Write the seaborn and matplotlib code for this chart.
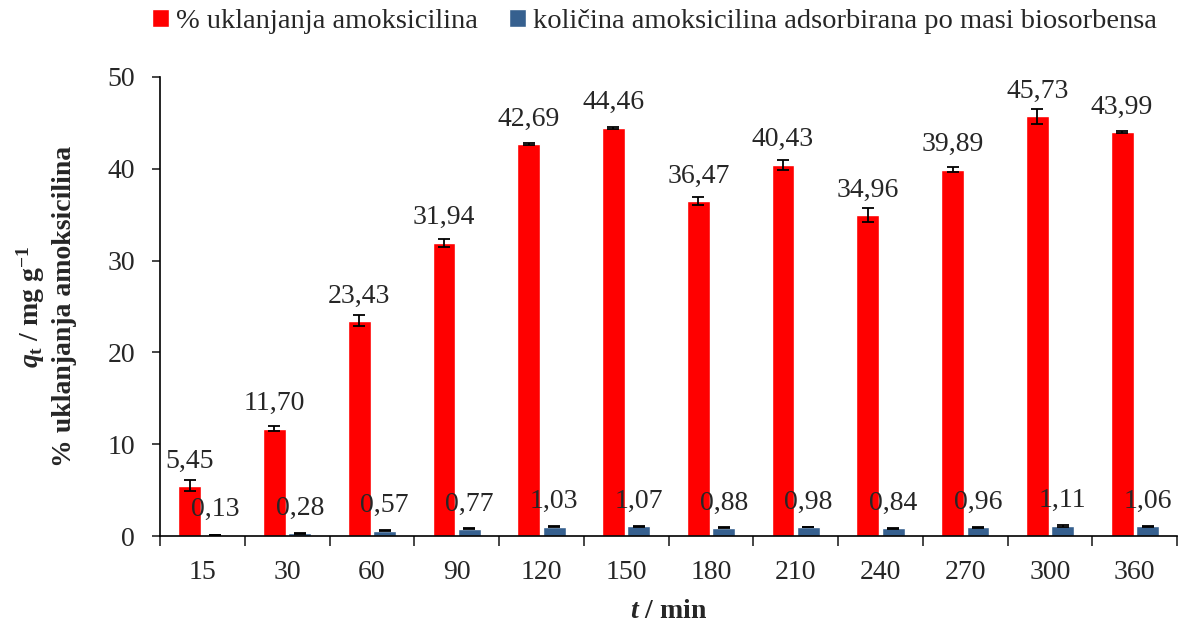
import matplotlib
matplotlib.use("Agg")
import matplotlib.pyplot as plt
import numpy as np
import pandas as pd
import seaborn as sns

# data
times = ["15", "30", "60", "90", "120", "150", "180", "210", "240", "270", "300", "360"]
removal = [5.45, 11.70, 23.43, 31.94, 42.69, 44.46, 36.47, 40.43, 34.96, 39.89, 45.73, 43.99]
removal_err = [0.60, 0.25, 0.60, 0.45, 0.10, 0.10, 0.45, 0.55, 0.78, 0.27, 0.80, 0.10]
qt = [0.13, 0.28, 0.57, 0.77, 1.03, 1.07, 0.88, 0.98, 0.84, 0.96, 1.11, 1.06]
qt_err = [0.03, 0.04, 0.05, 0.06, 0.05, 0.05, 0.05, 0.05, 0.06, 0.05, 0.08, 0.05]
series = ["% uklanjanja amoksicilina", "količina amoksicilina adsorbirana po masi biosorbensa"]
colors = ["#FF0000", "#36608F"]

df = pd.DataFrame({
    "t": times * 2,
    "value": removal + qt,
    "serija": [series[0]] * len(times) + [series[1]] * len(times),
})

sns.set_style("ticks")
plt.rcParams["font.family"] = ["Liberation Serif", "DejaVu Serif"]
plt.rcParams["mathtext.fontset"] = "custom"
plt.rcParams["mathtext.rm"] = "Liberation Serif:bold"
plt.rcParams["mathtext.it"] = "Liberation Serif:bold:italic"
plt.rcParams["mathtext.bf"] = "Liberation Serif:bold"

fs = 20
fig = plt.figure(figsize=(11.8, 6.25), dpi=100)
ax = fig.add_axes([0.1356, 0.1424, 0.862, 0.7344])

sns.barplot(data=df, x="t", y="value", hue="serija", order=times, hue_order=series,
            palette=colors, width=0.6, gap=0.1, saturation=1, errorbar=None, ax=ax)

for cont, errs, vals in zip(ax.containers, [removal_err, qt_err], [removal, qt]):
    xs = [p.get_x() + p.get_width() / 2 for p in cont.patches]
    ax.errorbar(xs, vals, yerr=errs, fmt="none", ecolor="black", elinewidth=1.3,
                capsize=4.5, capthick=1.3)
    ax.bar_label(cont, labels=[f"{v:.2f}".replace(".", ",") for v in vals],
                 padding=9, fontsize=fs)

ax.set_ylim(0, 50)
ax.set_yticks(np.arange(0, 51, 10))
ax.set_xlim(-0.5, len(times) - 0.5)
ax.set_xticks(np.arange(-0.5, len(times), 1), minor=True)
ax.tick_params(axis="x", which="major", length=0, labelsize=fs, pad=17)
ax.tick_params(axis="x", which="minor", length=7, width=1.2, direction="out")
ax.tick_params(axis="y", length=6, width=1.2, labelsize=fs, pad=12)
for sp in ["top", "right"]:
    ax.spines[sp].set_visible(False)
for sp in ["left", "bottom"]:
    ax.spines[sp].set_linewidth(1.2)
    ax.spines[sp].set_color("black")

ax.set_xlabel(r"$t$ / min", fontsize=fs, fontweight="bold", labelpad=10)
ax.set_ylabel(r"$q_{\mathrm{t}}$ / mg g$^{-1}$" + "\n% uklanjanja amoksicilina",
              fontsize=fs, fontweight="bold", labelpad=22, linespacing=1.25)

ax.legend(loc="center", bbox_to_anchor=(0.486, 1.12), ncol=2, frameon=False,
          fontsize=fs + 0.5, handlelength=0.6, handleheight=0.6, handletextpad=0.25,
          columnspacing=1.1, borderaxespad=0)

fig.savefig("out.png", dpi=100)
